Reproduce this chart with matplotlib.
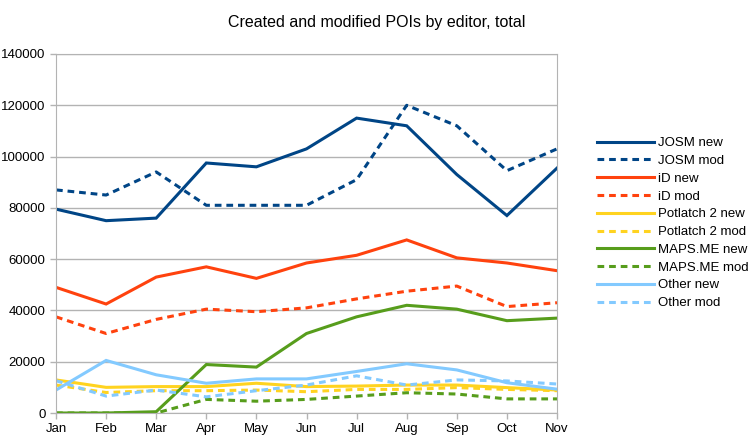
"""Created and modified POIs by editor, total."""
import matplotlib.pyplot as plt

plt.rcParams['font.family'] = ['Liberation Sans', 'DejaVu Sans']

months = ["Jan", "Feb", "Mar", "Apr", "May", "Jun", "Jul", "Aug", "Sep",
          "Oct", "Nov"]

josm_new = [79500, 75000, 76000, 97500, 96000, 103000, 115000, 112000, 93000,
            77000, 95500]
josm_mod = [87000, 85000, 94000, 81000, 81000, 81000, 91000, 120000, 112000,
            94500, 103000]
id_new = [49000, 42500, 53000, 57000, 52500, 58500, 61500, 67500, 60500,
          58500, 55500]
id_mod = [37500, 31000, 36500, 40500, 39500, 41000, 44500, 47500, 49500,
          41500, 43000]
potlatch_new = [12900, 10000, 10300, 10300, 11600, 10300, 10500, 10900, 10900,
                9900, 8950]
potlatch_mod = [10900, 8000, 8700, 8700, 8950, 8300, 9200, 9200, 9900, 9200,
                8700]
mapsme_new = [0, 0, 500, 18900, 17900, 31000, 37500, 42000, 40500, 36000,
              37000]
mapsme_mod = [0, 0, 0, 5300, 4600, 5300, 6600, 7900, 7400, 5500, 5500]
other_new = [8950, 20500, 14900, 11600, 13300, 13300, 16200, 19200, 16800,
             11800, 9300]
other_mod = [12600, 6600, 8950, 6300, 8700, 10900, 14500, 10900, 12900, 12500,
             11300]

series = [
    ("JOSM new", josm_new, "#004586", "-"),
    ("JOSM mod", josm_mod, "#004586", "--"),
    ("iD new", id_new, "#ff420e", "-"),
    ("iD mod", id_mod, "#ff420e", "--"),
    ("Potlatch 2 new", potlatch_new, "#ffd320", "-"),
    ("Potlatch 2 mod", potlatch_mod, "#ffd320", "--"),
    ("MAPS.ME new", mapsme_new, "#579d1c", "-"),
    ("MAPS.ME mod", mapsme_mod, "#579d1c", "--"),
    ("Other new", other_new, "#83caff", "-"),
    ("Other mod", other_mod, "#83caff", "--"),
]

fig = plt.figure(figsize=(7.53, 4.41), dpi=100)
ax = fig.add_axes([56 / 753, 1 - 413 / 441, 501 / 753, 359 / 441])

xs = range(len(months))
for name, vals, color, ls in series:
    kw = dict(dashes=(2.2, 1.6)) if ls == "--" else {}
    ax.plot(xs, vals, color=color, lw=2.2, label=name,
            solid_joinstyle="miter", dash_capstyle="butt", **kw)

ax.set_xlim(0, len(months) - 1)
ax.set_ylim(0, 140000)
ax.set_xticks(list(xs))
ax.set_xticklabels(months)
ax.set_yticks(range(0, 140001, 20000))
ax.grid(axis="y", color="#b3b3b3", lw=1)
ax.set_axisbelow(True)
for s in ax.spines.values():
    s.set_color("#b3b3b3")
ax.tick_params(colors="#b3b3b3", labelcolor="black", labelsize=9.5,
               length=4, width=1)

fig.text(0.5, 1 - 22 / 441, "Created and modified POIs by editor, total",
         ha="center", va="center", fontsize=11.5)

ax.legend(loc="upper left", bbox_to_anchor=(597 / 753, 1 - 137 / 441),
          bbox_transform=fig.transFigure, frameon=False, fontsize=9.5,
          handlelength=4.3, handletextpad=0.3, labelspacing=0.42,
          borderaxespad=0, borderpad=0)

fig.savefig("out.png", dpi=100)
